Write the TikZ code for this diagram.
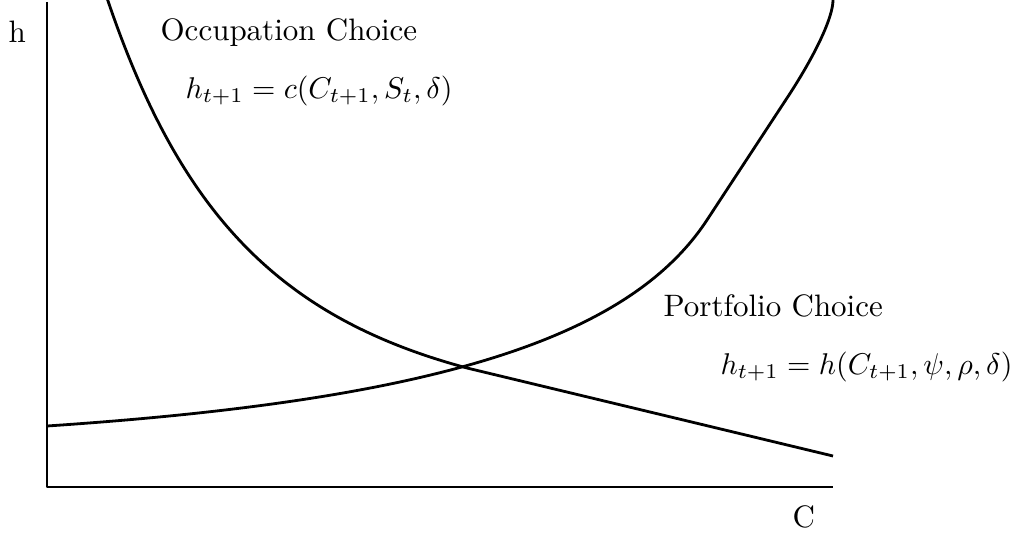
\documentclass[tikz,border=0pt]{standalone}
\begin{document}
\begin{tikzpicture}[x=1pt,y=-1pt,
  curve/.style={line width=2.8pt, line join=round},
  lbl/.style={anchor=base west, inner sep=0pt, scale=3.1},
  eqn/.style={anchor=base west, inner sep=0pt, scale=3.0}]
\useasboundingbox (0,0) rectangle (1014,535);
% axes
\coordinate (top) at (47,2);
\coordinate (orig) at (47,487);
\coordinate (xend) at (833,487);
\draw[curve] (top) -- (orig) -- (xend);
% occupation choice curve
\coordinate (a0) at (107,-2);
\coordinate (ax) at (467,368);
\coordinate (a1) at (833,456);
\draw[curve] (a0) .. controls (180,214) and (279.4,317.6) .. (ax) -- (a1);
% portfolio choice curve
\coordinate (b0) at (47,426);
\coordinate (b1) at (707,220);
\coordinate (b2) at (789,95);
\coordinate (b3) at (833,0);
\draw[curve] (b0) .. controls (435.9,400) and (629.2,338.4) .. (b1) -- (b2)
  .. controls (815,55) and (833,17.6) .. (b3);
% labels
\node[lbl] (hlab) at (8,43) {h};
\node[lbl] (clab) at (792,527) {C};
\node[lbl] (occ) at (160,41) {Occupation Choice};
\node[eqn] (occeq) at (185,98) {$h_{t+1}=c(C_{t+1},S_t,\delta)$};
\node[lbl] (port) at (663,316) {Portfolio Choice};
\node[eqn] (porteq) at (720,374) {$h_{t+1}=h(C_{t+1},\psi,\rho,\delta)$};
\end{tikzpicture}
\end{document}
